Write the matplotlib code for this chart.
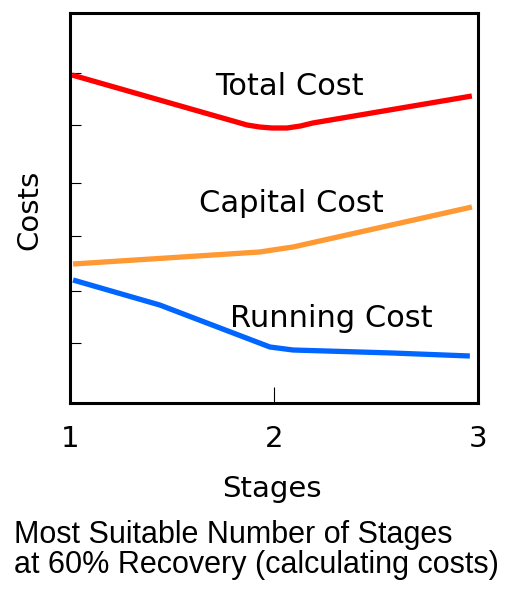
import matplotlib
matplotlib.use("Agg")
import matplotlib.pyplot as plt

# values (arbitrary cost units)
total_x = [1.01, 1.868, 1.93, 1.99, 2.064, 2.13, 2.19, 2.97]
total_y = [328, 278, 276, 275, 275, 277, 280, 307]

capital_x = [1.015, 1.93, 2.01, 2.093, 2.97]
capital_y = [139, 151, 153.5, 156, 196]

running_x = [1.015, 1.44, 1.98, 2.093, 2.58, 2.96]
running_y = [123, 98, 56, 53, 50, 47]

stage_ticks = [1, 2, 3]
cost_ticks = [60, 112, 167, 220, 278, 330]

fig = plt.figure(figsize=(5.21, 5.90), dpi=100)
ax = fig.add_axes([70 / 521, 1 - 403 / 590, 408 / 521, 390 / 590])

style = dict(lw=3.8, solid_capstyle="butt", solid_joinstyle="round")
ax.plot(total_x, total_y, color="#ff0000", **style)
ax.plot(capital_x, capital_y, color="#ff9933", **style)
ax.plot(running_x, running_y, color="#0066ff", **style)

ax.text(2.074, 308, "Total Cost", fontsize=22, ha="center", va="baseline")
ax.text(2.083, 191, "Capital Cost", fontsize=22, ha="center", va="baseline")
ax.text(2.279, 76, "Running Cost", fontsize=22, ha="center", va="baseline")

ax.set_xlim(1, 3)
ax.set_ylim(0, 390)
ax.set_xticks(stage_ticks)
ax.set_xticklabels(["1", "2", "3"], fontsize=21)
for lab in ax.get_xticklabels():
    lab.set_va("baseline")
ax.set_yticks(cost_ticks)
ax.set_yticklabels([])
ax.tick_params(axis="x", direction="in", length=11.5, width=0.8, pad=31.5)
ax.tick_params(axis="y", direction="in", length=8, width=0.8)
ax.xaxis.get_major_ticks()[0].tick1line.set_visible(False)
ax.xaxis.get_major_ticks()[2].tick1line.set_visible(False)
for s in ax.spines.values():
    s.set_linewidth(2.2)

ax.set_xlabel("Stages", fontsize=21, va="baseline")
ax.xaxis.set_label_coords(0.496, -0.241)
ax.set_ylabel("Costs", fontsize=21, va="baseline")
ax.yaxis.set_label_coords(-0.081, 0.495)

fig.text(14 / 521, 1 - 543 / 590, "Most Suitable Number of Stages",
         fontsize=22, family="Liberation Sans", va="baseline")
fig.text(14 / 521, 1 - 573 / 590, "at 60% Recovery (calculating costs)",
         fontsize=22, family="Liberation Sans", va="baseline")

fig.savefig("out.png", dpi=100)
